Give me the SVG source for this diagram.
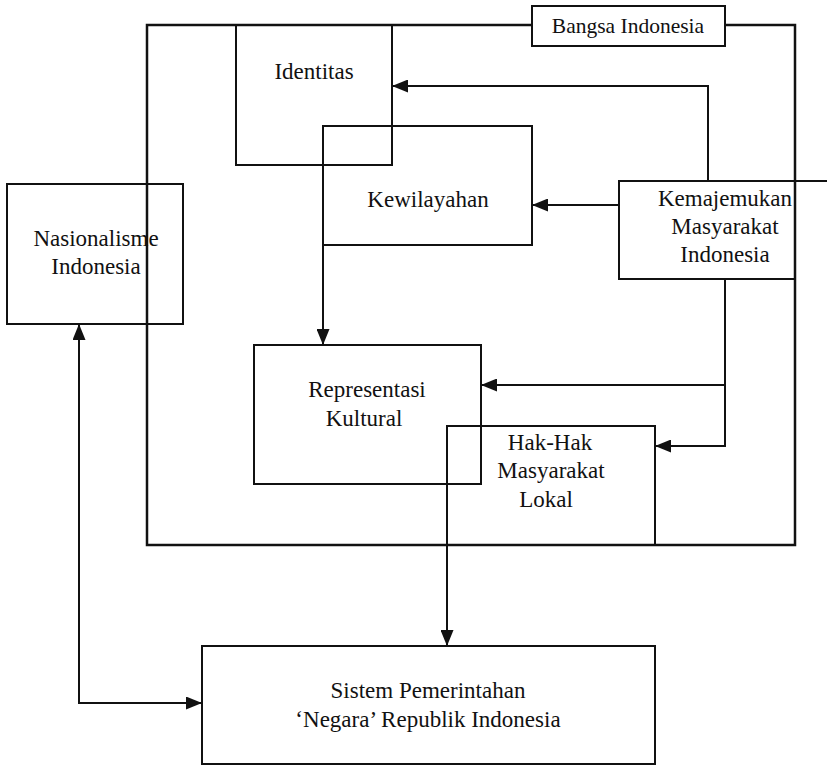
<svg xmlns="http://www.w3.org/2000/svg" width="827" height="765" viewBox="0 0 827 765">
<style>
.box{fill:none;stroke:#111;stroke-width:2}
.ln{fill:none;stroke:#111;stroke-width:2}
.outer{fill:none;stroke:#111;stroke-width:2.5}
text{font-family:"Liberation Serif","Times New Roman",serif;font-size:23px;fill:#111;text-anchor:middle}
.sm{font-size:21.5px}
</style>
<defs>
<marker id="ah" viewBox="0 0 16 13" refX="16" refY="6.5" markerWidth="16" markerHeight="13" markerUnits="userSpaceOnUse" orient="auto">
<path d="M0,0 L16,6.5 L0,13 Z" fill="#111"/>
</marker>
</defs>
<rect width="827" height="765" fill="#fff"/>
<g id="bangsa-indonesia">
<path class="outer" d="M532,25 H147 V545 H795 V25 H725"/>
<rect class="box" x="532" y="6" width="193" height="40"/>
<text class="sm" x="628" y="33">Bangsa Indonesia</text>
</g>
<g id="identitas">
<rect class="box" x="236" y="25" width="156" height="140"/>
<text x="314" y="79">Identitas</text>
</g>
<g id="kewilayahan">
<rect class="box" x="323" y="126" width="209" height="119"/>
<text x="428" y="207">Kewilayahan</text>
</g>
<g id="kemajemukan">
<path class="box" d="M795,279 H619 V181 H827"/>
<text x="725" y="206">Kemajemukan</text>
<text x="725" y="234">Masyarakat</text>
<text x="725" y="262">Indonesia</text>
</g>
<g id="nasionalisme">
<rect class="box" x="7" y="184" width="176" height="140"/>
<text x="96" y="246">Nasionalisme</text>
<text x="96" y="274">Indonesia</text>
</g>
<g id="representasi">
<rect class="box" x="254" y="345" width="227" height="139"/>
<text x="367" y="397">Representasi</text>
<text x="364" y="426">Kultural</text>
</g>
<g id="hak-hak">
<rect class="box" x="447" y="426" width="208" height="119"/>
<text x="550" y="450">Hak-Hak</text>
<text x="551" y="478">Masyarakat</text>
<text x="546" y="507">Lokal</text>
</g>
<g id="sistem">
<rect class="box" x="202" y="646" width="453" height="118"/>
<text x="428" y="698">Sistem Pemerintahan</text>
<text x="428" y="727">‘Negara’ Republik Indonesia</text>
</g>
<g id="connectors">
<path class="ln" d="M708,181 V86 H392" marker-end="url(#ah)"/>
<path class="ln" d="M619,205 H532" marker-end="url(#ah)"/>
<path class="ln" d="M323,245 V345" marker-end="url(#ah)"/>
<path class="ln" d="M725,279 V446 H655" marker-end="url(#ah)"/>
<path class="ln" d="M725,385 H481" marker-end="url(#ah)"/>
<path class="ln" d="M447,545 V646" marker-end="url(#ah)"/>
<path class="ln" d="M79,704 V324" marker-end="url(#ah)"/>
<path class="ln" d="M79,703 H202" marker-end="url(#ah)"/>
</g>
</svg>
